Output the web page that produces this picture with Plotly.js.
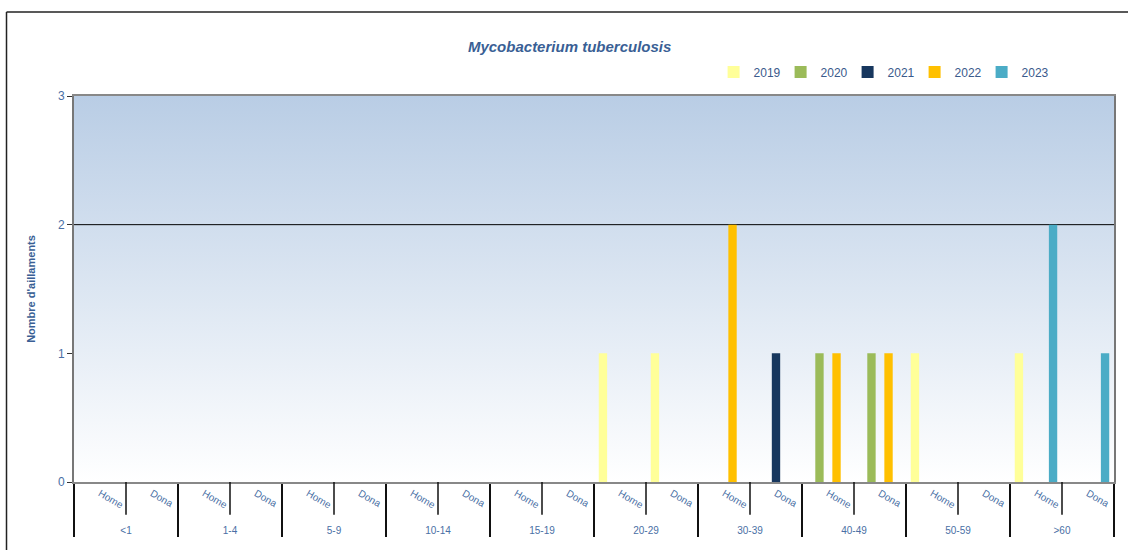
<!DOCTYPE html>
<html>
<head>
<meta charset="utf-8">
<script src="https://cdn.plot.ly/plotly-3.0.1.min.js"></script>
<style>html,body{margin:0;padding:0;background:#fff;}#chart{width:1128px;height:550px;}</style>
</head>
<body>
<div id="chart"></div>
<script>
// ---- data ----
const ageGroups = ["<1","<1","1-4","1-4","5-9","5-9","10-14","10-14","15-19","15-19",
                   "20-29","20-29","30-39","30-39","40-49","40-49","50-59","50-59",">60",">60"];
const sexes = ["Home","Dona","Home","Dona","Home","Dona","Home","Dona","Home","Dona",
               "Home","Dona","Home","Dona","Home","Dona","Home","Dona","Home","Dona"];
const years = ["2019","2020","2021","2022","2023"];
const v2019 = [0,0,0,0,0,0,0,0,0,0, 1,1,0,0,0,0,1,0,1,0];
const v2020 = [0,0,0,0,0,0,0,0,0,0, 0,0,0,0,1,1,0,0,0,0];
const v2021 = [0,0,0,0,0,0,0,0,0,0, 0,0,0,1,0,0,0,0,0,0];
const v2022 = [0,0,0,0,0,0,0,0,0,0, 0,0,2,0,1,1,0,0,0,0];
const v2023 = [0,0,0,0,0,0,0,0,0,0, 0,0,0,0,0,0,0,0,2,1];
const yearColors = ["#FFFF99","#9BBB59","#17375E","#FFC000","#4BACC6"];
const titleText = "Mycobacterium tuberculosis";
const yTitle = "Nombre d'aillaments";
const yTicks = [0,1,2,3];

const series = [v2019, v2020, v2021, v2022, v2023];
const traces = series.map((vals, i) => ({
  type: "bar",
  name: years[i],
  x: [ageGroups, sexes],
  y: vals,
  marker: {color: yearColors[i], line: {width: 0}},
  hoverinfo: "skip"
}));

// gradient background as an SVG image
const gradSvg = '<svg xmlns="http://www.w3.org/2000/svg" width="100" height="100" preserveAspectRatio="none">' +
  '<defs><linearGradient id="g" x1="0" y1="0" x2="0" y2="1">' +
  '<stop offset="0" stop-color="#B9CDE5"/><stop offset="1" stop-color="#FFFFFF"/>' +
  '</linearGradient></defs><rect width="100" height="100" fill="url(#g)"/></svg>';
const gradUri = "data:image/svg+xml;charset=utf-8," + encodeURIComponent(gradSvg);

// sub-category dividers (between Home and Dona of each group)
const subDividers = [];
for (let k = 0; k < sexes.length; k += 2) {
  subDividers.push({
    type: "line", xref: "x", yref: "paper",
    x0: k + 0.5, x1: k + 0.5, y0: 0, y1: -0.085,
    line: {color: "#111", width: 1.5}, layer: "above"
  });
}

const shapes = subDividers.concat([
  // gridline at 2
  {type: "line", xref: "paper", yref: "y", x0: 0, x1: 1, y0: 2, y1: 2,
   line: {color: "#000", width: 1}, layer: "below"},
  // outer frame
  {type: "line", xref: "paper", yref: "paper", x0: -0.0649, x1: 1.02, y0: 1.2176, y1: 1.2176,
   line: {color: "#222", width: 1.5}},
  {type: "line", xref: "paper", yref: "paper", x0: -0.0649, x1: -0.0649, y0: 1.2176, y1: -0.2,
   line: {color: "#222", width: 1.5}}
]);

const layout = {
  width: 1128, height: 550,
  margin: {l: 74, r: 14, t: 96, b: 68, autoexpand: false},
  paper_bgcolor: "#FFFFFF",
  plot_bgcolor: "rgba(0,0,0,0)",
  font: {family: "Liberation Sans, Arial, sans-serif", color: "#4A6FA5", size: 11},
  title: {
    text: "<b><i>" + titleText + "</i></b>",
    x: 0.505, xanchor: "center", y: 0.915, yanchor: "middle",
    font: {size: 15, color: "#3A5F95", family: "Liberation Sans, Arial, sans-serif"}
  },
  barmode: "group",
  bargap: 0.18,
  bargroupgap: 0.02,
  showlegend: true,
  legend: {
    orientation: "h", x: 0.615, xanchor: "left", y: 1.062, yanchor: "middle",
    font: {size: 12, color: "#3A5A8C"}, bgcolor: "rgba(0,0,0,0)",
    itemwidth: 30, entrywidth: 22, traceorder: "normal"
  },
  xaxis: {
    type: "multicategory",
    tickangle: 30,
    tickfont: {size: 10, color: "#4A6FA5"},
    showline: true, linecolor: "#888", linewidth: 2, mirror: true,
    showdividers: true, dividercolor: "#111", dividerwidth: 1.5,
    ticks: "", showgrid: false, fixedrange: true
  },
  yaxis: {
    range: [0, 3], tickvals: yTicks, ticktext: yTicks.map(String),
    tickfont: {size: 12, color: "#4A6FA5"},
    showgrid: false, zeroline: false,
    showline: true, linecolor: "#777", linewidth: 2, mirror: true,
    ticks: "outside", ticklen: 5, tickcolor: "#333", tickwidth: 1,
    title: {text: "<b>" + yTitle + "</b>", font: {size: 11, color: "#3A5F95"}, standoff: 20},
    fixedrange: true
  },
  images: [{
    source: gradUri, xref: "paper", yref: "paper", x: 0, y: 1,
    sizex: 1, sizey: 1, sizing: "stretch", xanchor: "left", yanchor: "top", layer: "below"
  }],
  shapes: shapes
};

Plotly.newPlot("chart", traces, layout, {displayModeBar: false, staticPlot: true});
</script>
</body>
</html>
